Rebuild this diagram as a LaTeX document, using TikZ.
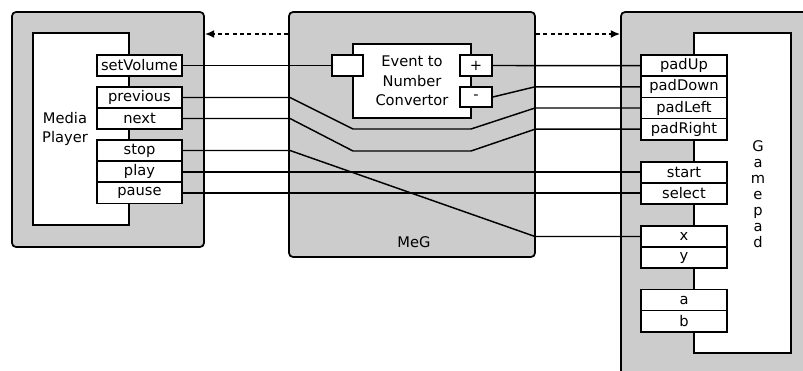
\documentclass[tikz,border=0pt]{standalone}
\usepackage{fontspec}
\setmainfont{DejaVu Sans}
\usetikzlibrary{arrows.meta}
\begin{document}
\begin{tikzpicture}[x=0.75pt,y=-0.75pt,
  every node/.style={font=\fontsize{11}{14.5}\selectfont},
  sz/.style 2 args={minimum width=#1*0.75pt, minimum height=#2*0.75pt},
  outerbox/.style={draw, fill=black!20, rounded corners=3pt, line width=1.3pt, inner sep=0pt},
  innerbox/.style={draw, fill=white, line width=1.3pt, inner sep=0pt},
  port/.style={draw, fill=white, line width=1.3pt, inner sep=0pt},
  lport/.style={port, sz={85}{21}},
  rport/.style={port, sz={86}{21.2}},
  wire/.style={line width=1.1pt},
  dasharrow/.style={line width=1.2pt, dash pattern=on 3pt off 2.5pt, -{Latex[length=7pt,width=6pt]}}
]
\useasboundingbox (0,0) rectangle (803,371);
% outer boxes
\node[outerbox, sz={192}{235}] (mp) at (108,129.5) {};
\node[outerbox, sz={246}{245}] (meg) at (412,134.5) {};
\node[outerbox, sz={200}{380}] (gp) at (721,202) {};
% inner boxes
\node[innerbox, sz={96}{192}] (mpin) at (81,129) {};
\node[innerbox, sz={97}{320}] (gpin) at (742.5,193) {};
\node[innerbox, sz={118}{74}, align=center, font=\fontsize{11}{14.6}\selectfont] (conv) at (412,81) {Event to\\Number\\Convertor};
% converter ports
\node[port, sz={31}{21}] (cin) at (347.5,65.5) {};
\node[port, sz={32}{21}] (plus) at (476,65.5) {+};
\node[port, sz={32}{20}] (minus) at (476,97) {-};
% media player ports
\node[lport] (setVolume) at (139.5,65.5) {setVolume};
\node[lport] (previous) at (139.5,97.5) {previous};
\node[lport] (next) at (139.5,118.5) {next};
\node[lport] (stop) at (139.5,150.5) {stop};
\node[lport] (play) at (139.5,171.8) {play};
\node[lport] (pause) at (139.5,193) {pause};
% gamepad ports
\node[rport] (padUp) at (684,65.6) {padUp};
\node[rport] (padDown) at (684,86.8) {padDown};
\node[rport] (padLeft) at (684,108) {padLeft};
\node[rport] (padRight) at (684,129.2) {padRight};
\node[rport] (start) at (684,172.3) {start};
\node[rport] (select) at (684,193.5) {select};
\node[rport] (bx) at (684,236.5) {x};
\node[rport] (by) at (684,257.7) {y};
\node[rport] (ba) at (684,300) {a};
\node[rport] (bb) at (684,321.2) {b};
% labels
\node[align=center] (mptext) at (65,129) {Media\\Player};
\node (meglabel) at (414,242) {MeG};
\node[align=center, font=\fontsize{11}{12}\selectfont] (gptext) at (758,194) {G\\a\\m\\e\\p\\a\\d};
% dashed arrows
\coordinate (dy) at (0,34);
\draw[dasharrow] (meg.west |- dy) -- (mp.east |- dy);
\draw[dasharrow] (meg.east |- dy) -- (gp.west |- dy);
% wires
\draw[wire] (setVolume.east) -- (cin.west);
\draw[wire] (plus.east) -- (padUp.west);
\draw[wire] (minus.east) -- (535,86.8) -- (padDown.west);
\draw[wire] (previous.east) -- (290,97.5) -- (353,129) -- (471,129) -- (535,108) -- (padLeft.west);
\draw[wire] (next.east) -- (290,118.5) -- (353,151) -- (471,151) -- (535,129.2) -- (padRight.west);
\draw[wire] (stop.east) -- (290,150.5) -- (535,236.5) -- (bx.west);
\draw[wire] (play.east) -- (play.east -| start.west);
\draw[wire] (pause.east) -- (pause.east -| select.west);
\end{tikzpicture}
\end{document}
